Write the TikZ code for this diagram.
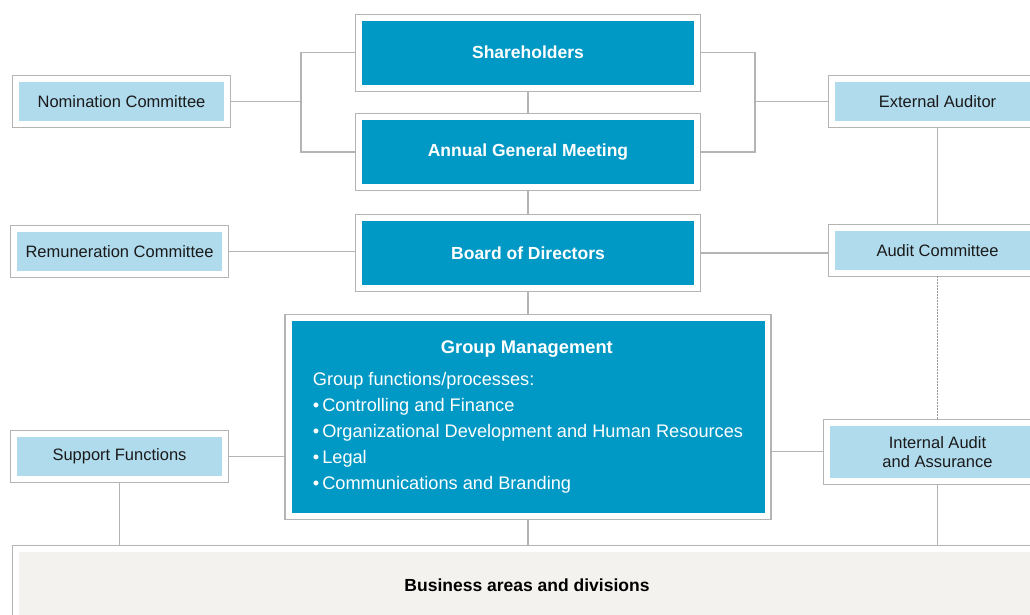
\documentclass[tikz,border=0pt]{standalone}
\usepackage{fontspec}
\setmainfont{Liberation Sans}
\usepackage{xcolor}
\usepackage{tikz}

\definecolor{govblue}{HTML}{0098C4}
\definecolor{govlight}{HTML}{B0DBED}
\definecolor{govsand}{HTML}{F3F2EE}
\definecolor{govline}{HTML}{B4B4B4}
\definecolor{govtext}{HTML}{1A1A1A}

\begin{document}
\begin{tikzpicture}[x=1pt, y=-1pt,
  every node/.style={font=\fontsize{16.5}{19}\selectfont, text=govtext},
  framed/.style={outer sep=6.5pt, inner sep=0pt},
  mainbox/.style={framed, fill=govblue, text=white, font=\fontsize{17.5}{21}\selectfont\bfseries, minimum width=332pt, minimum height=64pt},
  sidebox/.style={framed, fill=govlight, minimum width=205pt, minimum height=38.7pt, align=center},
  link/.style={draw=govline, line width=1.3pt}]
\clip (0,0) rectangle (1030,614);
% governing bodies
\node[mainbox] (sh) at (528,52.7) {Shareholders};
\node[mainbox] (agm) at (528,152) {Annual General Meeting};
\node[mainbox] (bod) at (528,253) {Board of Directors};
\node[framed, fill=govblue, text=white, minimum width=473pt, minimum height=191.7pt, align=left, font=\fontsize{18.2}{26}\selectfont] (gm) at (528,417)
  {\makebox[428pt]{\fontsize{18.3}{21}\selectfont\bfseries Group Management}\\[6pt]
   Group functions/processes:\\
   \textbullet\,Controlling and Finance\\
   \textbullet\,Organizational Development and Human Resources\\
   \textbullet\,Legal\\
   \textbullet\,Communications and Branding};
% committees and side functions
\node[sidebox] (nom) at (121.5,101.3) {Nomination Committee};
\node[sidebox] (rem) at (119.5,251.3) {Remuneration Committee};
\node[sidebox, minimum height=39pt] (sf) at (119.5,456.2) {Support Functions};
\node[sidebox] (ea) at (937.5,101.3) {External Auditor};
\node[sidebox] (ac) at (937.5,250.3) {Audit Committee};
\node[sidebox, minimum width=215pt, minimum height=51.7pt] (ia) at (937.5,451.8) {Internal Audit\\and Assurance};
\node[framed, fill=govsand, minimum width=1016pt, minimum height=66pt, font=\fontsize{17.5}{21}\selectfont\bfseries, text=black] (bus) at (527,585) {Business areas and divisions};
% white frames round every box
\foreach \n in {sh,agm,bod,gm,nom,rem,sf,ea,ac,ia,bus}
  \draw[link] (\n.south west) rectangle (\n.north east);
% connectors
\coordinate (lj) at (301,0);
\coordinate (rj) at (755,0);
\draw[link] (sh.west) -| (lj |- agm.west) -- (agm.west);
\draw[link] (nom.east) -- (nom.east -| lj);
\draw[link] (sh.east) -| (rj |- agm.east) -- (agm.east);
\draw[link] (ea.west -| rj) -- (ea.west);
\draw[link] (sh) -- (agm);
\draw[link] (agm) -- (bod);
\draw[link] (bod) -- (gm);
\draw[link] (rem.east) -- (rem.east -| bod.west);
\draw[link] (bod.east) -- (bod.east -| ac.west);
\draw[link] (ea) -- (ac);
\draw[link, draw=black!40, dash pattern=on 1.5pt off 1.5pt] (ac) -- (ia);
\draw[link] (sf.east) -- (sf.east -| gm.west);
\draw[link] (ia.west -| gm.east) -- (ia.west);
\draw[link] (sf.south) -- (sf.south |- bus.north);
\draw[link] (gm.south) -- (gm.south |- bus.north);
\draw[link] (ia.south) -- (ia.south |- bus.north);
\end{tikzpicture}
\end{document}
